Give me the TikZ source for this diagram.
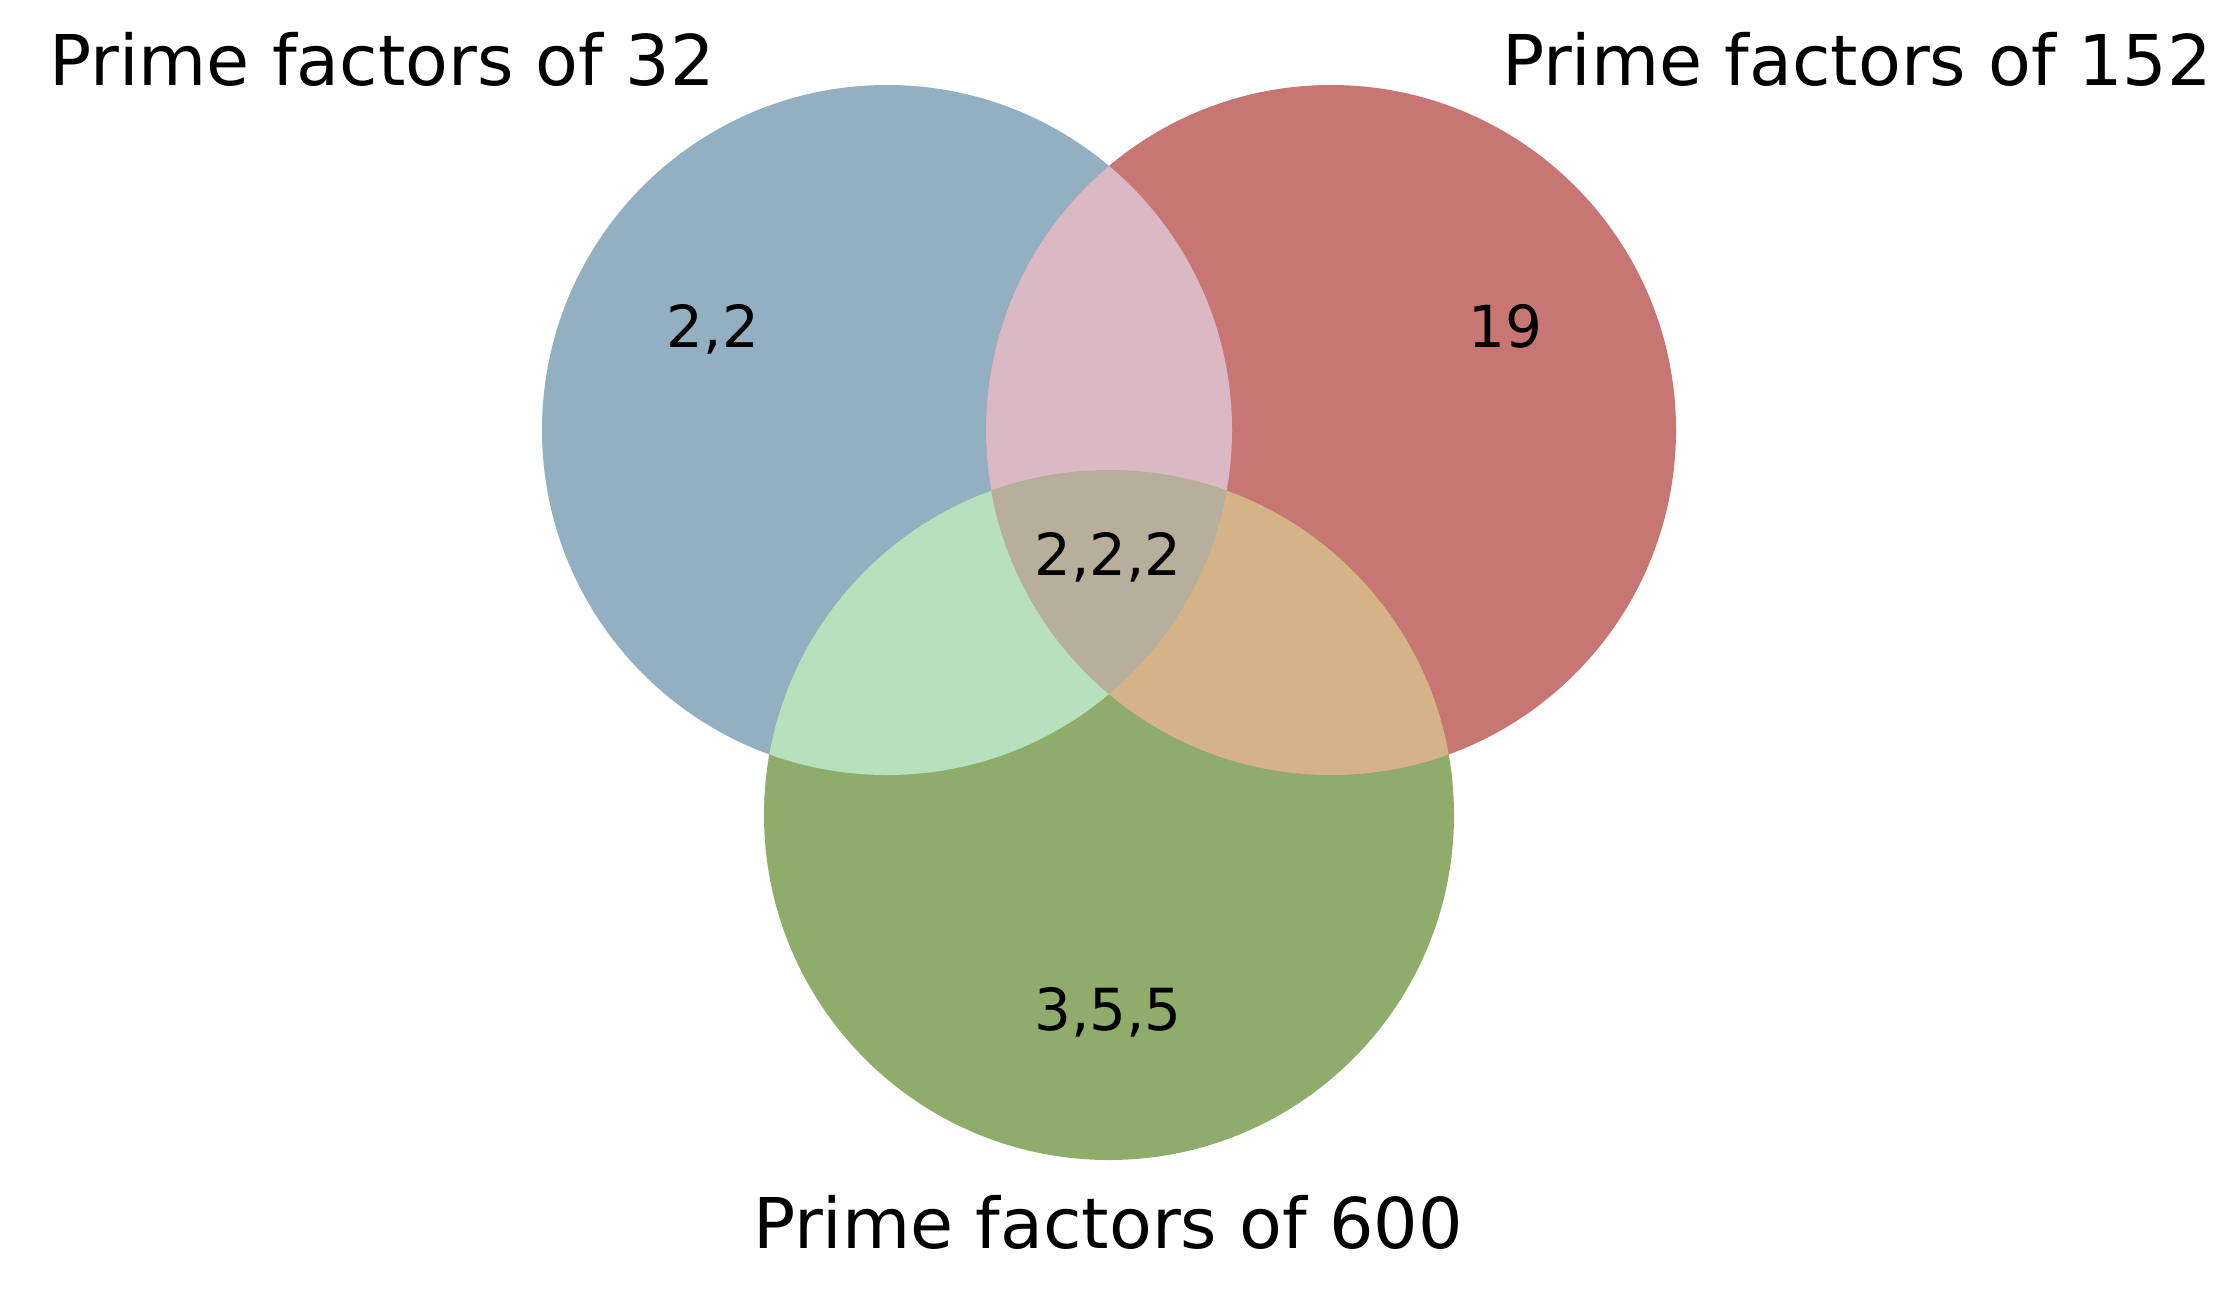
\documentclass[tikz,border=0pt]{standalone}
\usepackage{fontspec}
\setmainfont{DejaVu Sans}
\definecolor{cblue}{HTML}{93B0C3}
\definecolor{cred}{HTML}{C87674}
\definecolor{cgreen}{HTML}{8FAC6B}
\definecolor{cbr}{HTML}{DAB9C5}
\definecolor{cbg}{HTML}{B7E0BD}
\definecolor{crg}{HTML}{D6B386}
\definecolor{call}{HTML}{B7AF9B}
\begin{document}
\begin{tikzpicture}[x=1pt,y=-1pt,
  settitle/.style={anchor=base,inner sep=0pt,font=\fontsize{70}{80}\selectfont},
  regionlabel/.style={anchor=base,inner sep=0pt,font=\fontsize{58}{66}\selectfont}]
\useasboundingbox[fill=white] (0,0) rectangle (2224,1288);
\coordinate (A) at (887,430);
\coordinate (B) at (1331,430);
\coordinate (C) at (1109,815);
\fill[cblue] (A) circle[radius=345pt];
\fill[cred] (B) circle[radius=345pt];
\fill[cgreen] (C) circle[radius=345pt];
\begin{scope}
  \clip (A) circle[radius=345pt];
  \fill[cbr] (B) circle[radius=345pt];
\end{scope}
\begin{scope}
  \clip (A) circle[radius=345pt];
  \fill[cbg] (C) circle[radius=345pt];
\end{scope}
\begin{scope}
  \clip (B) circle[radius=345pt];
  \fill[crg] (C) circle[radius=345pt];
\end{scope}
\begin{scope}
  \clip (A) circle[radius=345pt];
  \clip (B) circle[radius=345pt];
  \fill[call] (C) circle[radius=345pt];
\end{scope}
\node[settitle] (t32) at (382,85) {Prime factors of 32};
\node[settitle] (t152) at (1857,85) {Prime factors of 152};
\node[settitle] (t600) at (1108,1248) {Prime factors of 600};
\node[regionlabel] (la) at (713,347) {2,2};
\node[regionlabel] (lb) at (1505,347) {19};
\node[regionlabel] (labc) at (1108,575) {2,2,2};
\node[regionlabel] (lc) at (1108,1030) {3,5,5};
\end{tikzpicture}
\end{document}
